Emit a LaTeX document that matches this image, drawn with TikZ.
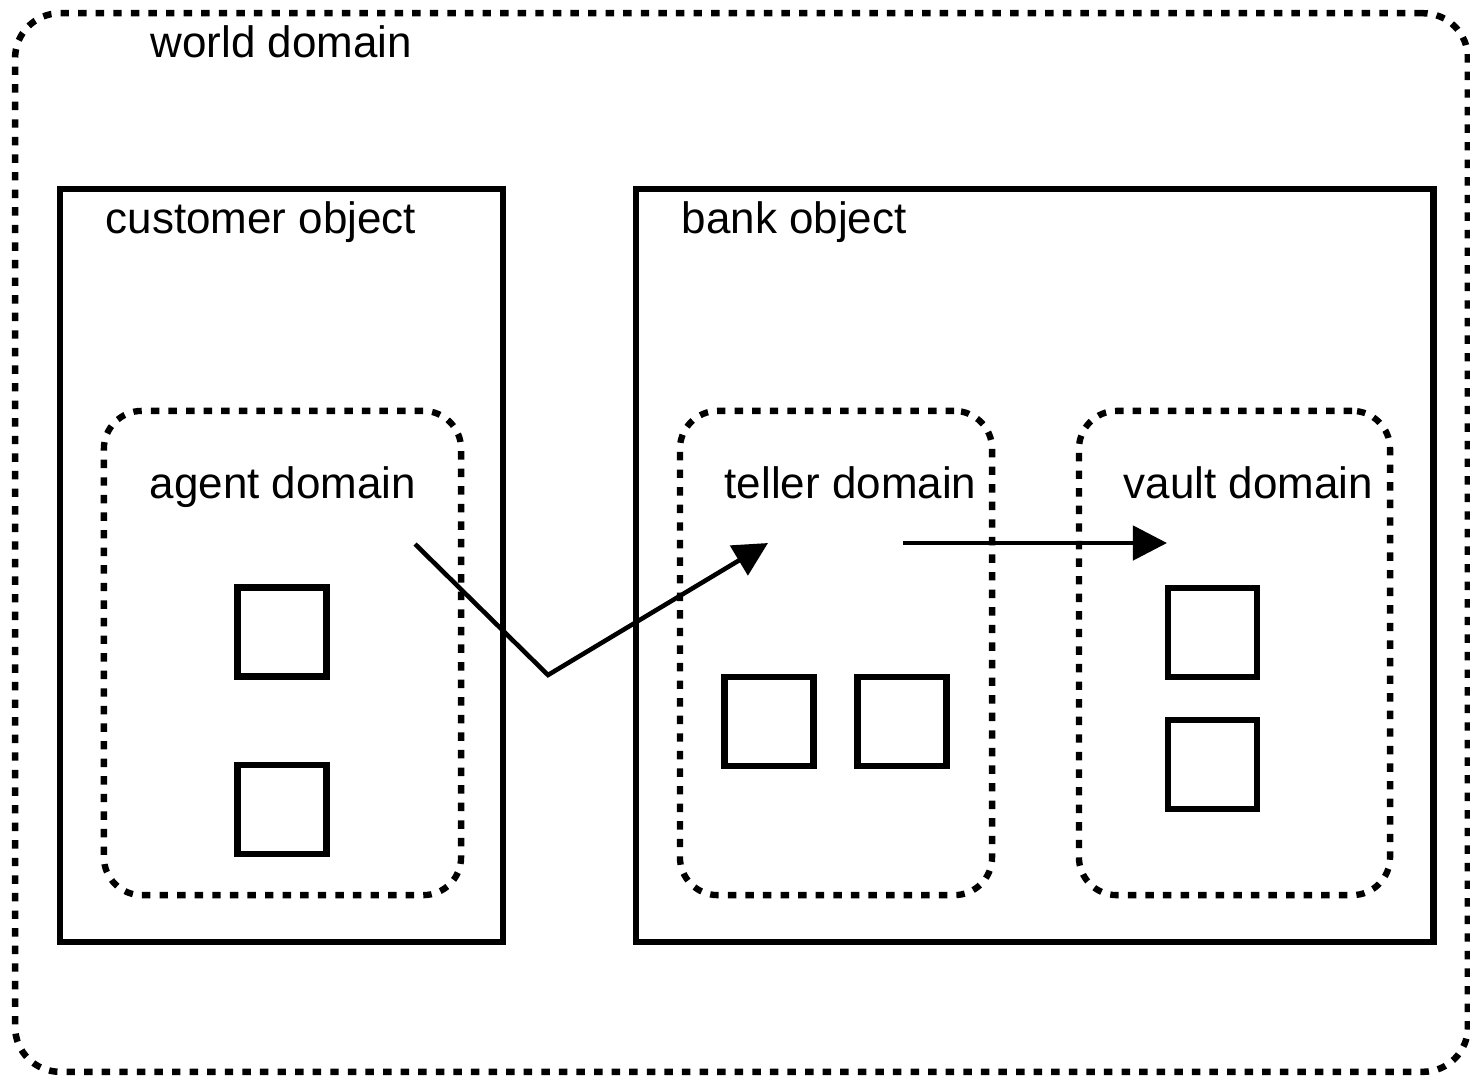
\documentclass[tikz,border=0pt]{standalone}
\usepackage{fontspec}
\setmainfont{Liberation Sans}
\usetikzlibrary{arrows.meta}
\begin{document}
\begin{tikzpicture}[x=0.01cm,y=-0.01cm,
  domainbox/.style={draw, dash pattern=on 2.4pt off 2.6pt, line width=1.8pt, rounded corners=0.38cm, inner sep=0pt},
  worldbox/.style={draw, dash pattern=on 2.4pt off 2.6pt, line width=1.85pt, rounded corners=0.45cm, inner sep=0pt},
  objbox/.style={draw, line width=1.85pt, inner sep=0pt},
  item/.style={draw, line width=1.85pt, inner sep=0pt, minimum width=0.89cm, minimum height=0.89cm},
  lbl/.style={anchor=base west, inner sep=0pt, font=\fontsize{12.5pt}{15pt}\selectfont},
  msg/.style={line width=1.3pt, -{Triangle[length=0.34cm,width=0.34cm]}}]
\useasboundingbox (0,0) rectangle (1470,1078);
% outer world domain
\node[worldbox, minimum width=14.52cm, minimum height=10.58cm] (world) at (741.5,542.5) {};
\node[lbl] (worldlbl) at (150,57) {world domain};
% customer and bank objects
\node[objbox, minimum width=4.43cm, minimum height=7.53cm] (customer) at (281.5,565.5) {};
\node[lbl] (customerlbl) at (105,233) {customer object};
\node[objbox, minimum width=7.97cm, minimum height=7.53cm] (bank) at (1034.5,565.5) {};
\node[lbl] (banklbl) at (681,233) {bank object};
% inner domains
\node[domainbox, minimum width=3.57cm, minimum height=4.84cm] (agent) at (282.5,653) {};
\node[lbl] (agentlbl) at (149,498) {agent domain};
\node[domainbox, minimum width=3.12cm, minimum height=4.84cm] (teller) at (836,653) {};
\node[lbl] (tellerlbl) at (724,498) {teller domain};
\node[domainbox, minimum width=3.11cm, minimum height=4.84cm] (vault) at (1234.5,653) {};
\node[lbl] (vaultlbl) at (1123,498) {vault domain};
% contained items
\node[item] (a1) at (282,632) {};
\node[item] (a2) at (282,809.5) {};
\node[item] (t1) at (769,721.5) {};
\node[item] (t2) at (902,721.5) {};
\node[item] (v1) at (1212.5,632.5) {};
\node[item] (v2) at (1212.5,764.5) {};
% message paths
\coordinate (m1s) at (415,544);
\coordinate (m1b) at (548,675);
\coordinate (m1e) at (768,543);
\coordinate (m2s) at (903,543);
\coordinate (m2e) at (1167,543);
\draw[msg] (m1s) -- (m1b) -- (m1e);
\draw[msg] (m2s) -- (m2e);
\end{tikzpicture}
\end{document}
